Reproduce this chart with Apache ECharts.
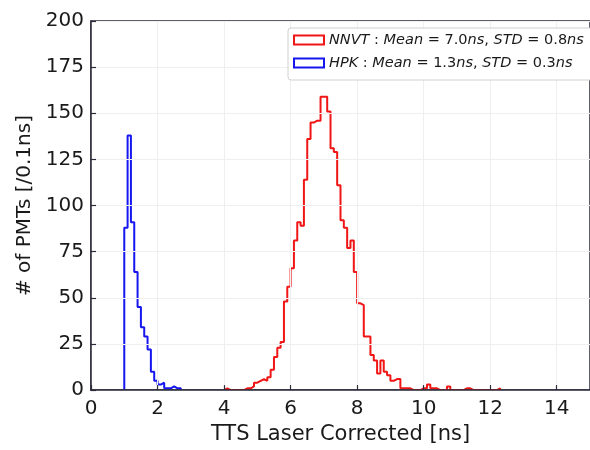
<!DOCTYPE html>
<html>
<head>
<meta charset="utf-8">
<script src="https://cdn.jsdelivr.net/npm/echarts@6/dist/echarts.min.js"></script>
<style>html,body{margin:0;padding:0;background:#fff}#c{width:590px;height:450px}</style>
</head>
<body>
<div id="c"></div>
<script>
// Histogram bin width [ns]
const binWidth = 0.1;
// HPK counts, first bin starts at 1.0 ns
const hpkStart = 1.0;
const hpkCounts = [88, 138, 91, 64, 45, 34, 29, 22, 10, 5, 3, 4, 1, 1, 2, 1, 1];
// NNVT counts, first bin starts at 4.0 ns
const nnvtStart = 4.0;
const nnvtCounts = [
  1, 0, 0, 0, 0, 0, 1, 1, 2, 4,
  5, 6, 5, 7, 11, 18, 23, 26, 48, 56,
  66, 81, 91, 89, 114, 136, 145, 146, 146, 159,
  159, 151, 131, 129, 111, 92, 88, 77, 81, 64,
  47, 46, 29, 29, 19, 16, 9, 16, 10, 8,
  5, 6, 6, 1, 1, 1, 0, 0, 0, 1,
  1, 3, 1, 1, 0, 0, 0, 2, 0, 0,
  0, 0, 1, 1, 0, 0, 0, 0, 0, 0,
  0, 0, 1
];
const seriesNames = ['NNVT', 'HPK'];
const xTicks = [0, 2, 4, 6, 8, 10, 12, 14];
const yTicks = [0, 25, 50, 75, 100, 125, 150, 175, 200];

function stepPoints(start, counts) {
  const pts = [[start, 0]];
  counts.forEach((c, i) => pts.push([+(start + i * binWidth).toFixed(2), c]));
  pts.push([+(start + counts.length * binWidth).toFixed(2), 0]);
  return pts;
}

const FONT = 'DejaVu Sans';
const chart = echarts.init(document.getElementById('c'));
const rich = {
  i: { fontFamily: FONT, fontStyle: 'italic', fontSize: 14.5, color: '#1a1a1a' },
  u: { fontFamily: FONT, fontSize: 14.5, color: '#1a1a1a' }
};
const legendText = {
  NNVT: '{i|NNVT}{u| : }{i|Mean}{u| = 7.0}{i|ns}{u|, }{i|STD}{u| = 0.8}{i|ns}',
  HPK: '{i|HPK}{u| : }{i|Mean}{u| = 1.3}{i|ns}{u|, }{i|STD}{u| = 0.3}{i|ns}'
};
const axisColor = '#2b2b3a';
chart.setOption({
  animation: false,
  backgroundColor: '#fff',
  grid: { left: 91, right: -1, top: 21, bottom: 56, show: true, borderColor: axisColor, borderWidth: 1.5, backgroundColor: 'transparent' },
  legend: {
    orient: 'vertical', left: 288, top: 28, z: 20,
    padding: [3, 10, 8, 5],
    itemWidth: 30, itemHeight: 9, itemGap: 5,
    backgroundColor: '#fff', borderColor: '#d0d0d0', borderWidth: 1, borderRadius: 3,
    data: [
      { name: 'NNVT', icon: 'rect', itemStyle: { color: '#fff', borderColor: '#f01616', borderWidth: 2 } },
      { name: 'HPK', icon: 'rect', itemStyle: { color: '#fff', borderColor: '#1616f0', borderWidth: 2 } }
    ],
    formatter: n => legendText[n],
    textStyle: { rich: rich, lineHeight: 18 }
  },
  xAxis: {
    type: 'value', min: 0, max: 15, interval: 2, z: 5,
    name: 'TTS Laser Corrected [ns]', nameLocation: 'middle', nameGap: 32,
    nameTextStyle: { fontFamily: FONT, fontSize: 21, color: '#1a1a1a' },
    axisLine: { lineStyle: { color: axisColor, width: 1.5 } },
    axisTick: { inside: true, length: 5, lineStyle: { color: axisColor, width: 1.2 } },
    axisLabel: { fontFamily: FONT, fontSize: 20, color: '#1a1a1a', margin: 9, showMaxLabel: false,
      formatter: v => xTicks.includes(v) ? String(v) : '' },
    splitLine: { show: true, lineStyle: { color: '#efefef', width: 1 } }
  },
  yAxis: {
    type: 'value', min: 0, max: 200, interval: 25, z: 5,
    name: '# of PMTs [/0.1ns]', nameLocation: 'middle', nameGap: 56,
    nameTextStyle: { fontFamily: FONT, fontSize: 20, color: '#1a1a1a' },
    axisLine: { lineStyle: { color: axisColor, width: 1.5 } },
    axisTick: { inside: true, length: 5, lineStyle: { color: axisColor, width: 1.2 } },
    axisLabel: { fontFamily: FONT, fontSize: 20, color: '#1a1a1a', margin: 7,
      formatter: v => yTicks.includes(v) ? String(v) : '' },
    splitLine: { show: true, lineStyle: { color: '#efefef', width: 1 } }
  },
  series: [
    { name: seriesNames[0], type: 'line', step: 'end', symbol: 'none', z: 2,
      data: stepPoints(nnvtStart, nnvtCounts), lineStyle: { color: '#f01616', width: 2 }, itemStyle: { color: '#f01616' } },
    { name: seriesNames[1], type: 'line', step: 'end', symbol: 'none', z: 2,
      data: stepPoints(hpkStart, hpkCounts), lineStyle: { color: '#1616f0', width: 2 }, itemStyle: { color: '#1616f0' } }
  ]
});
</script>
</body>
</html>
